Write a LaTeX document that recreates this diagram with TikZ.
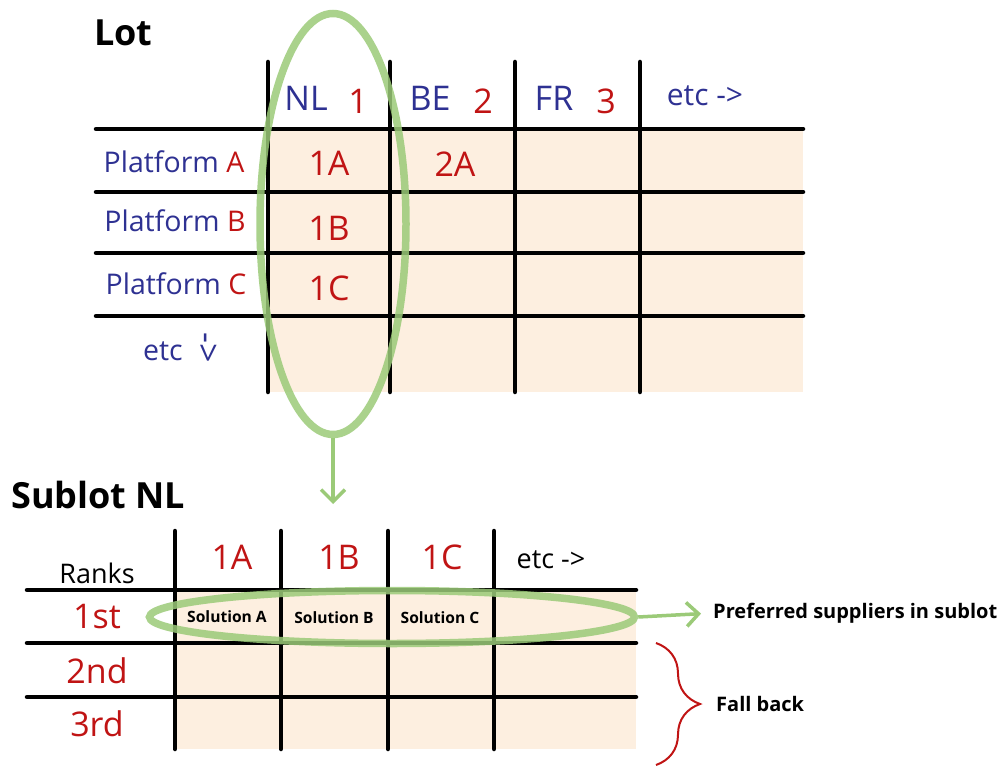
\documentclass[tikz,border=0pt]{standalone}
\usepackage{fontspec}
\setmainfont{Open Sans}
\usetikzlibrary{shapes.geometric,arrows.meta,decorations.pathreplacing}
\definecolor{peach}{RGB}{253,239,224}
\definecolor{navy}{RGB}{46,49,146}
\definecolor{darkred}{RGB}{192,20,20}
\definecolor{leaf}{RGB}{155,202,120}

\begin{document}
\begin{tikzpicture}[x=1pt,y=-1pt,
	bar/.style={line width=4.5pt,line cap=round},
	sel/.style={draw=leaf,line width=7.5pt,draw opacity=.85,ellipse,inner sep=0pt},
	link/.style={draw=leaf,line width=3.5pt,-{Straight Barb[length=12pt,width=24pt]}},
	lbl/.style={inner sep=0pt},
	title/.style={lbl,anchor=west,font=\fontsize{36}{36}\selectfont\bfseries},
	head/.style={lbl,navy,font=\fontsize{34}{34}\selectfont},
	idx/.style={lbl,darkred,font=\fontsize{34}{34}\selectfont},
	plat/.style={lbl,navy,font=\fontsize{28.5}{28.5}\selectfont},
	rank/.style={lbl,font=\fontsize{27}{27}\selectfont},
	sol/.style={lbl,font=\fontsize{15.6}{15.6}\selectfont\bfseries},
	note/.style={lbl,anchor=west,font=\fontsize{20}{20}\selectfont\bfseries}]
	\useasboundingbox (0,0) rectangle (1003,767);
	\fill[peach] (268,129) rectangle (803,392);
	\fill[peach] (175,590) rectangle (636,749);
	\foreach \y in {129,192,253,316}
		\draw[bar] (96,\y) -- (803,\y);
	\foreach \x in {268,390,515,640}
		\draw[bar] (\x,62) -- (\x,392);
	\foreach \y in {590,643,697}
		\draw[bar] (27,\y) -- (636,\y);
	\foreach \x in {175,281,388,494}
		\draw[bar] (\x,531) -- (\x,749);
	\node[title] (lot) at (94,33) {Lot};
	\node[head] (nl) at (306,98) {NL};
	\node[idx] (n1) at (358,101) {1};
	\node[head] (be) at (430,98) {BE};
	\node[idx] (n2) at (483,101) {2};
	\node[head] (fr) at (554,98) {FR};
	\node[idx] (n3) at (606,101) {3};
	\node[plat,font=\fontsize{30}{30}\selectfont] (etcr) at (705,96) {etc ->};
	\node[plat] (pa) at (174,162) {Platform \textcolor{darkred}{A}};
	\node[plat] (pb) at (175,221) {Platform \textcolor{darkred}{B}};
	\node[plat] (pc) at (176,284) {Platform \textcolor{darkred}{C}};
	\node[plat] (etcd) at (163,351) {etc};
	\node[plat,rotate=-90,font=\fontsize{34}{34}\selectfont] (down) at (207,348) {->};
	\node[idx] (c1a) at (329,163) {1A};
	\node[idx] (c2a) at (455,164) {2A};
	\node[idx] (c1b) at (329,228) {1B};
	\node[idx] (c1c) at (329,288) {1C};
	\node[sel,minimum width=146,minimum height=421] (lotsel) at (333,224) {};
	\coordinate (drop) at (333,504);
	\draw[link] (lotsel.south) -- (drop);
	\node[title] (sublot) at (11,495) {Sublot NL};
	\node[rank] (ranks) at (97,573) {Ranks};
	\node[idx] (s1a) at (232,557) {1A};
	\node[idx] (s1b) at (339,557) {1B};
	\node[idx] (s1c) at (442,557) {1C};
	\node[rank] (etcs) at (551,560) {etc ->};
	\node[idx] (r1) at (97,617) {1st};
	\node[idx] (r2) at (97,671) {2nd};
	\node[idx] (r3) at (97,724) {3rd};
	\node[sol] (sola) at (227,617) {Solution A};
	\node[sol] (solb) at (334,618) {Solution B};
	\node[sol] (solc) at (440,618) {Solution C};
	\node[sel,minimum width=485,minimum height=53] (subsel) at (392,617) {};
	\node[note] (pref) at (713,613) {Preferred suppliers in sublot};
	\draw[link,shorten >=12pt] (subsel.east) -- (pref.west);
	\draw[darkred,line width=2pt,decorate,decoration={brace,amplitude=44pt}] (656,643) -- (656,765);
	\node[note] (fall) at (716,704) {Fall back};
\end{tikzpicture}
\end{document}
